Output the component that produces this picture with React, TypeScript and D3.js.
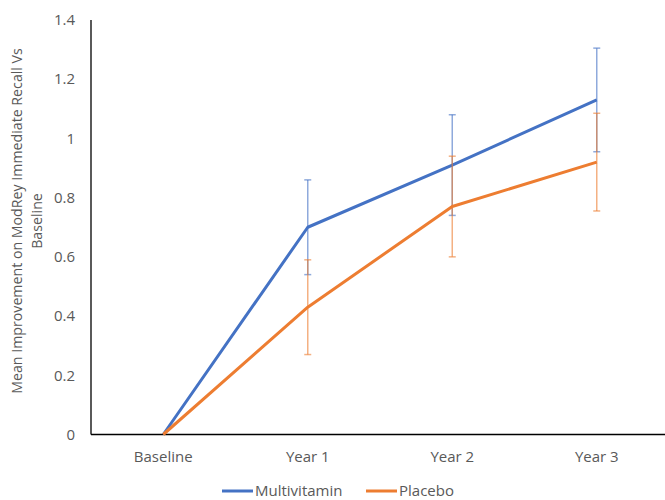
import React from 'react';
import * as d3 from 'd3';

const categories = ['Baseline', 'Year 1', 'Year 2', 'Year 3'];
const multivitamin = [0, 0.70, 0.91, 1.13];
const multivitaminErr = [0, 0.16, 0.17, 0.175];
const placebo = [0, 0.43, 0.77, 0.92];
const placeboErr = [0, 0.16, 0.17, 0.165];
const yTicks = [0, 0.2, 0.4, 0.6, 0.8, 1, 1.2, 1.4];

const series = [
  { name: 'Multivitamin', color: '#4472C4', values: multivitamin, err: multivitaminErr },
  { name: 'Placebo', color: '#ED7D31', values: placebo, err: placeboErr },
];

const W = 665;
const H = 500;
const margin = { top: 20, right: -4, bottom: 65.5, left: 91 };
const font = "'Open Sans', sans-serif";

export default function App() {
  const x = d3.scaleBand().domain(categories).range([margin.left, W - margin.right]);
  const y = d3.scaleLinear().domain([0, 1.4]).range([H - margin.bottom, margin.top]);
  const cx = (c: string) => (x(c) ?? 0) + x.bandwidth() / 2;
  const line = d3.line<number>().x((_, i) => cx(categories[i])).y(d => y(d));

  return (
    <svg width={W} height={H} style={{ position: 'absolute', left: 0, top: 0, background: '#fff' }}>
      {/* y tick labels */}
      {yTicks.map(t => (
        <text key={t} x={75} y={y(t)} dy="0.35em" textAnchor="end" fontSize={15} fill="#595959" fontFamily={font}>
          {d3.format('~g')(t)}
        </text>
      ))}
      {/* axes */}
      <line x1={margin.left} x2={margin.left} y1={y(1.4)} y2={y(0)} stroke="#000" strokeWidth={1.3} />
      <line x1={margin.left} x2={W} y1={y(0)} y2={y(0)} stroke="#000" strokeWidth={1.3} />
      {/* x labels */}
      {categories.map(c => (
        <text key={c} x={cx(c)} y={457} dy="0.35em" textAnchor="middle" fontSize={15} fill="#595959" fontFamily={font}>
          {c}
        </text>
      ))}
      {/* y title */}
      <g transform={`translate(22,221) rotate(-90)`}>
        <text textAnchor="middle" fontSize={14.2} fill="#595959" fontFamily={font}>
          <tspan x={0} dy={0}>Mean Improvement on ModRey Immediate Recall Vs</tspan>
          <tspan x={0} dy={20}>Baseline</tspan>
        </text>
      </g>
      {/* series */}
      {series.map(s => (
        <g key={s.name}>
          <path d={line(s.values) ?? ''} fill="none" stroke={s.color} strokeWidth={3} strokeLinejoin="round" />
          {s.values.map((v, i) =>
            s.err[i] > 0 ? (
              <g key={i} stroke={s.color} strokeOpacity={0.6} strokeWidth={1.5}>
                <line x1={cx(categories[i])} x2={cx(categories[i])} y1={y(v + s.err[i])} y2={y(v - s.err[i])} />
                <line x1={cx(categories[i]) - 3.5} x2={cx(categories[i]) + 3.5} y1={y(v + s.err[i])} y2={y(v + s.err[i])} />
                <line x1={cx(categories[i]) - 3.5} x2={cx(categories[i]) + 3.5} y1={y(v - s.err[i])} y2={y(v - s.err[i])} />
              </g>
            ) : null
          )}
        </g>
      ))}
      {/* legend */}
      {series.map((s, i) => {
        const lx = i === 0 ? 222 : 366;
        return (
          <g key={s.name}>
            <line x1={lx} x2={lx + 31} y1={491} y2={491} stroke={s.color} strokeWidth={3} />
            <text x={lx + 33} y={491} dy="0.33em" fontSize={15} fill="#595959" fontFamily={font}>
              {s.name}
            </text>
          </g>
        );
      })}
    </svg>
  );
}
